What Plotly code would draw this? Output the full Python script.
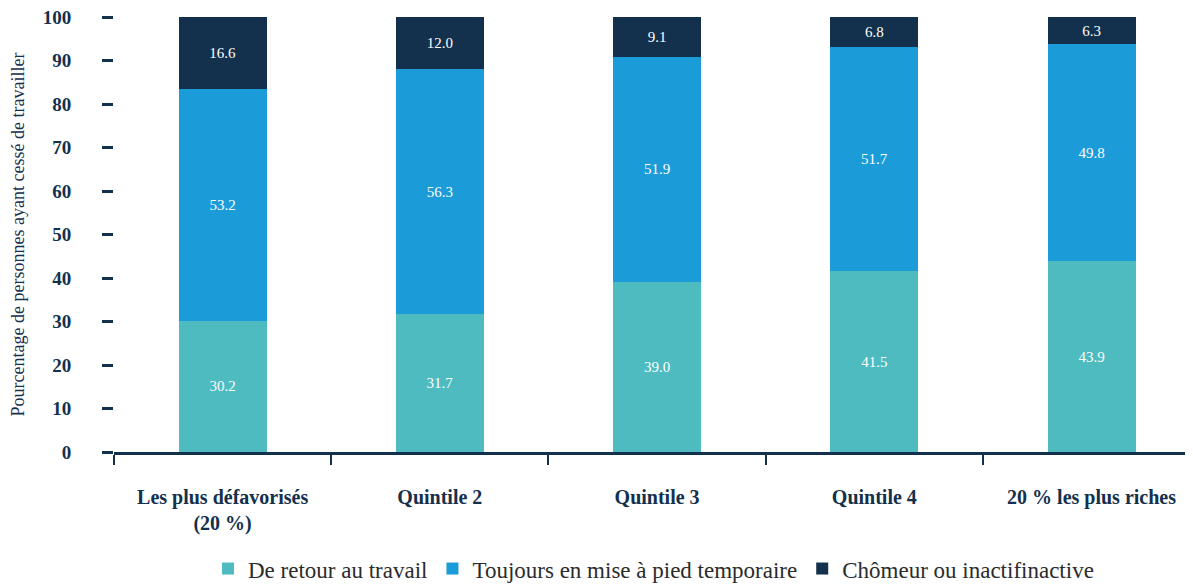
import plotly.graph_objects as go

categories = ["Les plus défavorisés<br>(20 %)", "Quintile 2", "Quintile 3", "Quintile 4", "20 % les plus riches"]
retour = [30.2, 31.7, 39.0, 41.5, 43.9]
temporaire = [53.2, 56.3, 51.9, 51.7, 49.8]
chomeur = [16.6, 12.0, 9.1, 6.8, 6.3]
series_names = ["De retour au travail", "Toujours en mise à pied temporaire", "Chômeur ou inactifinactive"]
colors = ["#4DBBC0", "#1B9BD7", "#13304D"]
y_ticks = [0, 10, 20, 30, 40, 50, 60, 70, 80, 90, 100]

NAVY = "#13304D"
FONT = "Liberation Serif, DejaVu Serif"

fig = go.Figure()
for name, vals, col in zip(series_names, [retour, temporaire, chomeur], colors):
    fig.add_trace(go.Bar(
        x=categories, y=vals, name=name, marker=dict(color=col, line=dict(width=0)),
        text=[f"{v:.1f}" for v in vals], textposition="inside", insidetextanchor="middle",
        textfont=dict(color="white", size=15, family=FONT), hoverinfo="skip",
    ))

fig.update_layout(
    barmode="stack", bargap=0.595,
    width=1185, height=577,
    margin=dict(l=106, r=0, t=9, b=133, autoexpand=False),
    plot_bgcolor="white", paper_bgcolor="white",
    font=dict(family=FONT, color=NAVY),
    legend=dict(orientation="h", x=0.5, xanchor="center", y=-0.268, yanchor="middle",
                font=dict(size=23, family=FONT, color="#2B2B2B"), traceorder="normal",
                tracegroupgap=0, itemwidth=30),
    showlegend=True,
)
fig.update_xaxes(
    type="category", range=[-0.5, 4.467], showline=True, linecolor=NAVY, linewidth=2.5,
    ticks="outside", tickson="boundaries", ticklen=10, tickwidth=2, tickcolor=NAVY,
    tickfont=dict(size=20, family=FONT, color=NAVY, weight="bold"), ticklabelstandoff=25,
    showgrid=False, zeroline=False, automargin=False,
)
fig.update_yaxes(
    range=[0, 100], tickvals=y_ticks, showline=False, showgrid=False, zeroline=False,
    ticks="outside", ticklen=11, tickwidth=3, tickcolor=NAVY, automargin=False,
    ticklabeloverflow="allow",
    tickfont=dict(size=19, family=FONT, color=NAVY, weight="bold"), ticklabelstandoff=27,
    title=dict(text="Pourcentage de personnes ayant cessé de travailler",
               font=dict(size=18, family=FONT, color=NAVY), standoff=14),
)

fig.write_html("out.html")
